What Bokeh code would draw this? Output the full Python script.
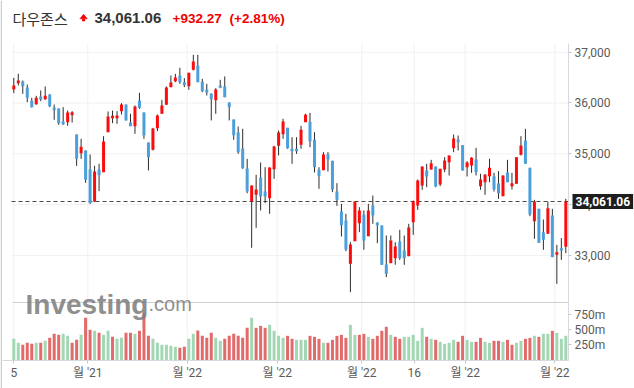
from bokeh.plotting import figure
from bokeh.models import (Range1d, FixedTicker, NumeralTickFormatter, Label, LinearAxis,
                          ColumnDataSource)
from bokeh.embed import file_html
from bokeh.resources import INLINE

# ---------------- data ----------------
title_name = "다우존스"
last_price = 34061.06
change_abs = 932.27
change_pct = 2.81

opens = [36266, 36390, 36423, 36305, 36049, 35977, 36128, 36075, 36167, 35911,
         35892, 35636, 35623, 35761, 35380, 35013, 35065, 34691, 34062, 34691,
         34639, 35426, 35702, 35702, 35839, 35970, 35616, 35544, 36049, 35813,
         35222, 35078, 35505, 35787, 35964, 36312, 36430, 36541, 36410, 36331,
         36653, 36738, 36417, 36266, 36187, 36056, 36344, 36325, 36010, 35675,
         35419, 35105, 34711, 34068, 34193, 34534, 34258, 34127, 34698, 35157,
         35387, 35511, 35098, 35098, 35177, 35623, 35629, 35275, 34684, 34678,
         34986, 34862, 34258, 33865, 33687, 32835, 33281, 33635, 33806, 33379,
         33983, 33648, 33589, 32822, 32848, 32946, 33274, 33097, 32985, 33655,
         33983, 34376, 34671, 34691, 34750, 34396, 34691, 34835, 35111, 35281,
         35170, 34737, 34770, 34888, 34363, 34442, 34560, 34560, 34415, 34166,
         34632, 34363, 34409, 34980, 35262, 34724, 33674, 33917, 33458, 33425,
         33786, 33011, 33143, 33169]
highs = [36495, 36574, 36443, 36364, 36102, 36141, 36246, 36325, 36170, 35970,
         35892, 35918, 35852, 35839, 35380, 35294, 35065, 34986, 34763, 34803,
         35347, 35833, 35852, 35839, 35997, 35970, 35787, 35951, 36200, 35813,
         35222, 35511, 35774, 36062, 36325, 36541, 36574, 36692, 36489, 36594,
         36948, 36948, 36476, 36377, 36187, 36292, 36456, 36522, 36010, 35675,
         35537, 35492, 34901, 34376, 34586, 34829, 34737, 34731, 35157, 35459,
         35688, 35511, 35327, 35327, 35550, 35787, 35806, 35426, 34737, 35032,
         35032, 34862, 34422, 34015, 33819, 33261, 34061, 33950, 33884, 34015,
         34179, 33648, 33589, 33392, 33392, 33261, 33504, 33392, 33622, 34081,
         34494, 34750, 34803, 34881, 34750, 34704, 34934, 34966, 35380, 35360,
         35170, 34855, 34934, 35117, 34606, 34606, 34901, 34625, 34658, 34573,
         34881, 34625, 34934, 35347, 35491, 34724, 34094, 33917, 33707, 34061,
         33917, 33208, 33340, 34114]
lows = [36193, 36344, 36180, 36016, 35912, 35964, 36036, 36062, 35918, 35669,
        35570, 35570, 35551, 35616, 34763, 34901, 34429, 34016, 34048, 34265,
        34639, 35426, 35603, 35590, 35774, 35656, 35544, 35393, 35885, 35294,
        34672, 35065, 35446, 35787, 35964, 36312, 36410, 36377, 36312, 36259,
        36640, 36410, 36213, 36148, 35656, 35787, 36292, 36115, 35656, 35275,
        34999, 34704, 34225, 33150, 33543, 33884, 34029, 33819, 34508, 34967,
        35294, 35098, 34803, 34999, 35098, 35623, 35131, 34632, 34311, 34678,
        34652, 34245, 33976, 33373, 33084, 32277, 33281, 33458, 33110, 33379,
        33622, 33241, 32815, 32572, 32848, 32815, 32913, 32815, 32985, 33405,
        33897, 34291, 34343, 34691, 34343, 34363, 34638, 34573, 35032, 35065,
        34671, 34553, 34625, 34573, 34291, 34192, 34442, 34258, 34114, 34166,
        34442, 34297, 34409, 34966, 34802, 33772, 33326, 33248, 33110, 33425,
        32966, 32441, 32913, 33044]
closes = [36344, 36443, 36331, 36102, 35918, 36102, 36069, 36141, 35938, 35859,
          35603, 35584, 35813, 35820, 34901, 35137, 34488, 34029, 34652, 34580,
          35242, 35734, 35747, 35754, 35970, 35656, 35544, 35931, 35905, 35360,
          34934, 35498, 35754, 35951, 36305, 36403, 36502, 36410, 36351, 36594,
          36817, 36410, 36233, 36207, 36075, 36266, 36298, 36115, 35918, 35367,
          35032, 34718, 34258, 34376, 34298, 34160, 34160, 34731, 35144, 35419,
          35636, 35111, 35052, 35052, 35472, 35767, 35249, 34737, 34560, 34986,
          34888, 34297, 34094, 33596, 33117, 33215, 34061, 33884, 33294, 33884,
          33786, 33596, 32815, 32638, 33294, 33176, 32946, 32946, 33550, 34061,
          34475, 34750, 34553, 34816, 34356, 34704, 34868, 34966, 35301, 35229,
          34671, 34829, 34920, 34638, 34494, 34586, 34724, 34297, 34225, 34573,
          34442, 34422, 34934, 35163, 34802, 33805, 34061, 33248, 33307, 33930,
          32966, 33064, 33097, 34061.06]
volumes_m = [345, 278, 245, 278, 261, 278, 278, 311, 361, 428,
             411, 428, 395, 278, 328, 411, 695, 495, 478, 445,
             411, 478, 378, 345, 361, 445, 445, 428, 478, 778,
             395, 345, 278, 245, 245, 228, 211, 195, 211, 345,
             428, 484, 395, 361, 445, 361, 311, 345, 395, 428,
             395, 361, 528, 695, 528, 562, 528, 578, 478, 395,
             361, 395, 345, 328, 328, 328, 395, 378, 345, 278,
             278, 328, 395, 411, 361, 578, 411, 411, 428, 378,
             345, 395, 478, 545, 411, 378, 345, 378, 378, 411,
             311, 528, 378, 345, 328, 295, 261, 278, 328, 295,
             395, 328, 295, 295, 361, 295, 278, 311, 311, 295,
             328, 245, 278, 311, 345, 361, 395, 378, 428, 428,
             478, 445, 345, 395]
volume_dir = ("G G R R R G R G R R R G G R R G R R G R G G R G G R R G R R R G G G G G G R R G G "
              "R R R R G G R R R R R R G R R R G G G G R R G G G R R R G R R R R R G G R R G R R "
              "R R G R R G G G G G R G R G G G G R R G G R R G G R R G R R G G R R G R G G R G G G").split()

x_tick_pos = [0, 16.49, 38.64, 58.69, 77.54, 89.22, 100.58, 120.54]
x_tick_labels = ["5", "월 '21", "월 '22", "월 '22", "월 '22", "16", "월 '22", "월 '22"]
price_ticks = [33000, 34000, 35000, 36000, 37000]
vol_ticks = [250, 500, 750]
vol_tick_labels = ["250m", "500m", "750m"]

# ---------------- layout helpers (reference pixel -> data) ----------------
W, H = 634, 388
PX0, STEP = 13.3, 4.488          # x of first candle, px per candle
PY0, PPP = 153.3, 19.68          # y of 35,000, points per px
VOL_PER_PX, VOL_Y0, VOL_BASE = 16.68, 360, -16.7

def ix(px):
    return (px - PX0) / STEP

def pr(py):
    return 35000 - (py - PY0) * PPP

def vv(py):
    return VOL_BASE + (VOL_Y0 - py) * VOL_PER_PX

FRAME_L, FRAME_R = 11, 568        # chart area
PRICE_TOP, SEP_Y, VOL_BOT = 43, 302, 360

idx = list(range(len(opens)))
up_col, dn_col = "#fb0d0d", "#4ba0db"
src = ColumnDataSource(dict(
    x=idx, o=opens, h=highs, l=lows, c=closes,
    top=[max(a, b) for a, b in zip(opens, closes)],
    bot=[min(a, b) for a, b in zip(opens, closes)],
    col=[up_col if c >= o else dn_col for o, c in zip(opens, closes)],
))
vsrc = ColumnDataSource(dict(
    x=idx, v=volumes_m,
    col=["#a3d7b4" if d == "G" else "#e26a6a" for d in volume_dir],
))

AX_FONT = "Roboto, 'Noto Sans CJK KR'"
AX_COL = "#5a5a5a"
AX_LINE = "#d6dae0"
GRID = "#f1f1f1"

p = figure(width=W, height=H, x_range=Range1d(ix(0), ix(W)), y_range=Range1d(pr(H), pr(0)),
           output_backend="svg", toolbar_location=None,
           x_axis_location=None, y_axis_location=None, min_border=0)
p.extra_y_ranges = {"vol": Range1d(vv(H), vv(0))}
p.outline_line_color = None
p.grid.visible = False

# widget frame edge on the left
p.quad(left=ix(0), right=ix(1.5), top=pr(0), bottom=pr(H), fill_color="#cfcfcf", line_color=None)

# grid lines
p.segment(x0=ix(FRAME_L), x1=ix(FRAME_R), y0=price_ticks, y1=price_ticks,
          line_color=GRID, line_width=1)
p.segment(x0=x_tick_pos, x1=x_tick_pos, y0=pr(PRICE_TOP), y1=pr(VOL_BOT),
          line_color=GRID, line_width=1)

# last price dashed line and separator
p.segment(x0=[ix(FRAME_L)], x1=[ix(FRAME_R)], y0=[last_price], y1=[last_price],
          line_color="#4a4a4a", line_width=1, line_dash="4 3")
p.segment(x0=[ix(FRAME_L + 1)], x1=[ix(FRAME_R)], y0=[pr(SEP_Y)], y1=[pr(SEP_Y)],
          line_color="#cfcfcf", line_width=1)

# candles
p.segment(x0="x", y0="l", x1="x", y1="h", source=src, line_color="#2d2d2d", line_width=1)
p.vbar(x="x", top="top", bottom="bot", width=0.67, source=src,
       fill_color="col", line_color=None)

# volume
p.vbar(x="x", top="v", bottom=VOL_BASE, width=0.67, source=vsrc, y_range_name="vol",
       fill_color="col", line_color=None)

def style_axis(a):
    a.major_label_text_font = AX_FONT
    a.major_label_text_font_size = "12px"
    a.major_label_text_color = AX_COL
    a.axis_line_color = AX_LINE
    a.major_tick_line_color = "#c9c9c9"
    a.major_tick_in = 0
    a.major_tick_out = 3
    a.minor_tick_line_color = None

ya = LinearAxis(ticker=FixedTicker(ticks=price_ticks), formatter=NumeralTickFormatter(format="0,0"),
                fixed_location=ix(FRAME_R), bounds=(pr(SEP_Y + 4), pr(PRICE_TOP)))
style_axis(ya)
ya.major_label_standoff = 3
p.add_layout(ya, "right")

va = LinearAxis(y_range_name="vol", ticker=FixedTicker(ticks=vol_ticks),
                fixed_location=ix(FRAME_R), bounds=(vv(VOL_BOT), vv(SEP_Y + 4)))
va.major_label_overrides = {t: s for t, s in zip(vol_ticks, vol_tick_labels)}
style_axis(va)
va.major_label_standoff = 3
p.add_layout(va, "right")

xa = LinearAxis(ticker=FixedTicker(ticks=x_tick_pos), fixed_location=pr(VOL_BOT),
                bounds=(ix(FRAME_L - 9), ix(FRAME_R)))
xa.major_label_overrides = {t: s for t, s in zip(x_tick_pos, x_tick_labels)}
style_axis(xa)
xa.major_label_standoff = 2
p.add_layout(xa, "below")

# watermark
p.add_layout(Label(x=ix(25), y=pr(303.5), text="Investing", text_font="Liberation Sans",
                   text_font_style="bold", text_font_size="28px", text_color="#808080",
                   text_alpha=0.9, text_baseline="alphabetic", text_align="left"))
p.add_layout(Label(x=ix(148), y=pr(303.5), text=".com", text_font="Liberation Sans",
                   text_font_size="20px", text_color="#808080", text_alpha=0.9,
                   text_baseline="alphabetic", text_align="left"))

# current price tag
p.add_layout(Label(x=ix(572), y=last_price, text=f"{last_price:,.2f}", text_font="Roboto",
                   text_font_style="bold", text_font_size="12px", text_color="white",
                   text_baseline="middle", text_align="left",
                   background_fill_color="#1e1e1e", padding=3))

# header: up arrow (head + stem) and texts
arrow_col = "#f00000"
p.patch(x=[ix(79.3), ix(86.9), ix(83.1)], y=[pr(18.3), pr(18.3), pr(13.8)],
        fill_color=arrow_col, line_color=arrow_col, line_width=0.5)
p.quad(left=ix(81.6), right=ix(84.6), top=pr(18.5), bottom=pr(20.8),
       fill_color=arrow_col, line_color=None)

hy = pr(17.5)
p.add_layout(Label(x=ix(12), y=hy, text=title_name, text_font="Noto Sans CJK KR",
                   text_font_size="15px", text_color="#333333",
                   text_baseline="middle", text_align="left"))
p.add_layout(Label(x=ix(94), y=hy, text=f"{last_price:,.2f}", text_font="Liberation Sans",
                   text_font_style="bold", text_font_size="15px", text_color="#333333",
                   text_baseline="middle", text_align="left"))
p.add_layout(Label(x=ix(172), y=hy, text=f"+{change_abs:,.2f}", text_font="Liberation Sans",
                   text_font_style="bold", text_font_size="13.5px", text_color="#f00000",
                   text_baseline="middle", text_align="left"))
p.add_layout(Label(x=ix(229), y=hy, text=f"(+{change_pct:.2f}%)", text_font="Liberation Sans",
                   text_font_style="bold", text_font_size="13.5px", text_color="#f00000",
                   text_baseline="middle", text_align="left"))

open("out.html", "w").write(file_html(p, INLINE))
